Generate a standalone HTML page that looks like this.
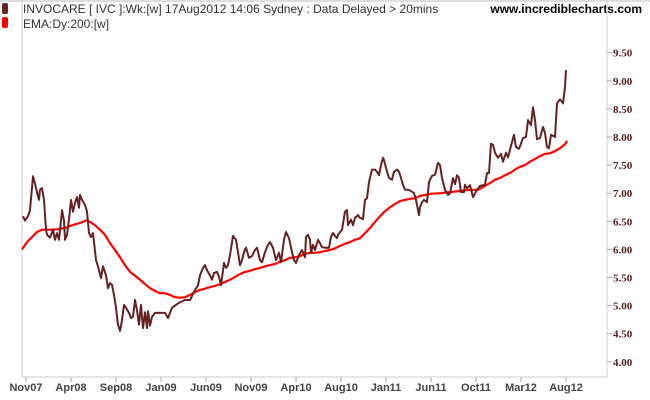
<!DOCTYPE html>
<html><head><meta charset="utf-8"><style>
body{margin:0;background:#fff;}
svg{display:block;font-family:"Liberation Sans",Arial,sans-serif;}
</style></head><body>
<svg id="chart" width="650" height="400" viewBox="0 0 650 400">
<rect x="0" y="0" width="650" height="400" fill="#fff"/>
<line x1="0" y1="1" x2="650" y2="1" stroke="#bbb"/>
<rect x="2" y="3" width="6" height="11" rx="2" fill="#6b2424"/>
<text x="23" y="13" font-size="12" fill="#333">INVOCARE [ IVC ]:Wk:[w]  17Aug2012 14:06 Sydney : Data Delayed &gt; 20mins</text>
<rect x="2" y="17" width="6" height="11" rx="2" fill="#ff0000"/>
<text x="23" y="28" font-size="12" fill="#333">EMA:Dy:200:[w]</text>
<text x="642" y="13" font-size="12" font-weight="bold" fill="#000" text-anchor="end">www.incrediblecharts.com</text>
<line x1="22" y1="0" x2="22" y2="377" stroke="#ccc"/>
<line x1="607" y1="0" x2="607" y2="377" stroke="#ccc"/>
<line x1="22" y1="377" x2="607" y2="377" stroke="#ccc"/>
<g id="yaxis"></g><g id="xaxis"></g><g id="series"></g>
</svg>
<script>
const yTicks=[4.0,4.5,5.0,5.5,6.0,6.5,7.0,7.5,8.0,8.5,9.0,9.5];
const xTickIdx=[0,5,10,15,20,25,30,35,40,45,50,55,60];
const xTickLabels=["Nov07","Apr08","Sep08","Jan09","Jun09","Nov09","Apr10","Aug10","Jan11","Jun11","Oct11","Mar12","Aug12"];
const priceT=[-0.33,-0.11,0.22,0.44,0.78,1.0,1.22,1.44,1.56,1.78,2.0,2.22,2.33,2.67,3.0,3.22,3.44,3.67,3.89,4.0,4.22,4.33,4.56,4.78,5.0,5.22,5.44,5.67,5.89,6.0,6.22,6.56,6.78,7.0,7.22,7.44,7.78,8.0,8.33,8.56,8.89,9.11,9.33,9.56,9.78,10.0,10.22,10.44,10.67,10.89,11.11,11.44,11.67,11.89,12.11,12.33,12.56,12.78,13.0,13.22,13.44,13.56,13.78,14.0,14.33,14.89,15.44,15.78,16.22,16.89,17.67,18.22,18.78,19.11,19.33,19.67,19.89,20.11,20.44,20.67,20.89,21.22,21.44,21.67,22.0,22.22,22.44,22.67,23.0,23.33,23.56,23.78,24.0,24.22,24.44,24.78,25.11,25.44,25.67,26.0,26.22,26.56,26.89,27.11,27.44,27.78,28.11,28.33,28.67,28.89,29.22,29.56,29.78,30.0,30.33,30.67,31.0,31.11,31.33,31.56,31.67,31.89,32.11,32.44,32.67,32.89,33.22,33.67,33.89,34.11,34.33,34.56,34.67,35.11,35.44,35.67,35.78,36.11,36.33,36.56,36.89,37.11,37.44,37.67,37.89,38.11,38.44,38.78,39.0,39.22,39.44,39.67,39.78,40.0,40.33,40.67,40.89,41.22,41.44,41.67,41.89,42.11,42.44,42.78,43.11,43.33,43.67,43.78,44.0,44.22,44.56,44.78,45.11,45.44,45.78,46.0,46.22,46.56,46.89,47.11,47.44,47.67,47.89,48.11,48.33,48.67,48.78,49.0,49.33,49.67,50.11,50.44,51.0,51.22,51.44,51.67,51.89,52.11,52.44,52.78,53.0,53.33,53.56,54.0,54.22,54.44,54.78,55.22,55.56,55.78,56.11,56.33,56.56,56.78,57.11,57.44,57.67,57.89,58.11,58.33,58.78,59.0,59.33,59.67,59.89,60.0];
const priceV=[6.59,6.51,6.59,6.70,7.30,7.17,7.02,6.88,7.06,7.09,6.88,6.35,6.26,6.21,6.35,6.17,6.29,6.17,6.51,6.70,6.51,6.17,6.26,6.53,6.88,6.67,6.83,6.93,6.74,6.97,6.88,6.79,6.67,6.29,6.22,6.29,5.81,5.70,5.49,5.70,5.54,5.31,5.40,5.37,5.19,4.96,4.66,4.55,4.74,5.01,4.96,4.87,4.78,4.80,5.10,4.92,4.66,5.01,4.60,4.88,4.60,4.90,4.64,4.80,4.87,4.87,4.87,4.78,4.96,5.04,5.10,5.10,5.28,5.36,5.54,5.67,5.72,5.63,5.54,5.46,5.58,5.60,5.51,5.36,5.76,5.67,5.72,5.90,6.24,6.17,5.95,5.72,5.81,5.95,6.03,5.85,5.88,5.99,6.03,5.81,5.77,5.95,6.08,6.13,6.03,5.81,5.94,5.77,6.17,6.31,6.20,5.95,5.81,5.76,5.90,5.99,5.86,6.22,6.26,6.17,5.94,6.08,5.99,6.17,6.11,6.04,6.03,6.03,6.22,6.29,6.24,6.20,6.26,6.35,6.67,6.70,6.43,6.53,6.43,6.56,6.61,6.56,6.54,6.88,6.91,7.20,7.42,7.42,7.38,7.32,7.50,7.63,7.59,7.45,7.27,7.24,7.38,7.42,7.38,7.27,7.15,7.06,7.06,7.04,7.00,6.88,6.61,6.75,6.84,6.88,6.84,7.20,7.31,7.33,7.54,7.50,7.27,7.06,6.97,7.00,7.27,7.16,7.32,7.27,7.02,7.02,7.15,7.09,7.14,6.93,7.06,7.13,7.15,7.36,7.36,7.88,7.86,7.72,7.63,7.70,7.56,7.72,7.64,7.91,8.04,7.82,7.79,7.98,8.00,8.30,8.21,8.53,8.30,7.96,7.98,8.18,8.07,7.82,7.80,8.04,8.00,8.60,8.67,8.60,8.89,9.19];
const emaT=[-0.44,0.11,0.67,1.22,1.78,2.67,3.56,4.33,5.11,6.0,6.78,7.11,7.67,8.22,8.78,9.33,9.89,10.44,11.0,11.56,12.11,12.67,13.22,13.78,14.33,14.89,15.44,16.0,16.56,17.11,17.67,18.22,18.78,19.33,19.89,20.44,21.0,21.56,22.11,22.67,23.22,23.78,24.33,24.89,25.44,26.0,26.56,27.11,27.67,28.22,28.78,29.33,29.89,30.44,31.0,31.56,32.11,32.67,33.22,33.78,34.33,34.89,35.44,36.0,36.56,37.11,37.67,38.22,38.78,39.33,39.89,40.44,41.0,41.56,42.11,42.67,43.22,43.78,44.33,44.89,46.0,47.11,48.22,49.33,50.22,51.0,51.56,52.11,52.67,53.22,53.78,54.33,54.89,55.44,56.0,56.56,57.11,57.67,58.22,58.78,59.33,59.89,60.11];
const emaV=[6.00,6.13,6.22,6.31,6.35,6.35,6.36,6.38,6.43,6.47,6.52,6.49,6.43,6.35,6.26,6.11,5.99,5.86,5.72,5.60,5.53,5.46,5.38,5.31,5.26,5.22,5.22,5.19,5.15,5.14,5.15,5.19,5.24,5.28,5.30,5.33,5.35,5.38,5.42,5.46,5.51,5.56,5.60,5.62,5.65,5.67,5.70,5.72,5.74,5.78,5.81,5.85,5.86,5.88,5.92,5.94,5.94,5.95,5.97,5.99,6.02,6.06,6.10,6.13,6.17,6.20,6.29,6.38,6.49,6.59,6.68,6.75,6.81,6.86,6.88,6.90,6.91,6.95,6.97,6.99,7.00,7.02,7.04,7.06,7.06,7.13,7.18,7.24,7.27,7.32,7.36,7.42,7.47,7.50,7.56,7.61,7.66,7.70,7.71,7.75,7.80,7.87,7.93];

const NS="http://www.w3.org/2000/svg";
function xS(t){return 26+t*9;}
function yS(v){return 586.6-v*56.2;}
function mk(tag,attrs,parent){const e=document.createElementNS(NS,tag);for(const k in attrs)e.setAttribute(k,attrs[k]);parent.appendChild(e);return e;}
const yg=document.getElementById('yaxis'),xg=document.getElementById('xaxis'),sg=document.getElementById('series');
yTicks.forEach(v=>{
  const y=yS(v);
  const l=mk('line',{x1:607,y1:y,x2:612,y2:y,stroke:'#aaa'},yg);
  
  
  const t=mk('text',{x:613,y:y+4,'font-size':11,'font-weight':'bold','font-family':'Liberation Serif, serif',fill:'#5a1a1a'},yg);
  t.textContent=v.toFixed(2);
  
  
});
xTickIdx.forEach((ti,i)=>{
  const x=xS(ti);
  const l=mk('line',{x1:x,y1:377,x2:x,y2:382,stroke:'#aaa'},xg);
  
  
  const t=mk('text',{x:x,y:391,'font-size':11,'font-weight':'bold','text-anchor':'middle',fill:'#444'},xg);
  t.textContent=xTickLabels[i];
  
  
});
function pts(T,V){return T.map((t,i)=>xS(t).toFixed(1)+','+yS(V[i]).toFixed(1)).join(' ');}
const ema=mk('polyline',{points:pts(emaT,emaV),fill:'none',stroke:'#ff0000','stroke-width':2.2,'stroke-linejoin':'round'},sg);


const pr=mk('polyline',{points:pts(priceT,priceV),fill:'none',stroke:'#652222','stroke-width':2,'stroke-linejoin':'round'},sg);


</script>
</body></html>
